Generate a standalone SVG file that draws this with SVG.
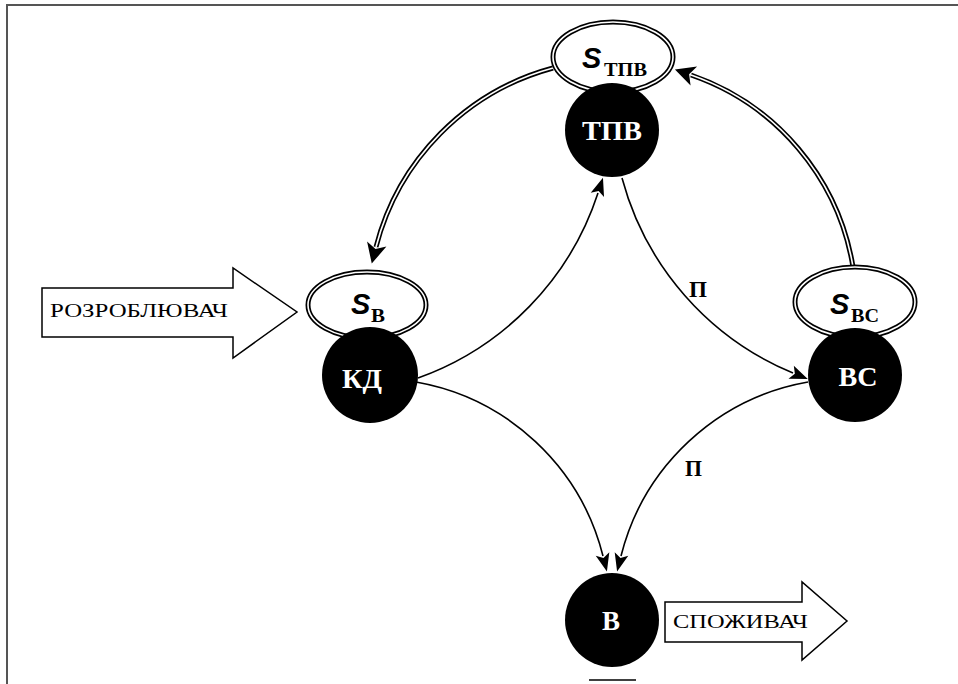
<svg xmlns="http://www.w3.org/2000/svg" width="958" height="684" viewBox="0 0 958 684">
<style>
.frame{stroke:#555;stroke-width:2;fill:none}
.ring{fill:#fff;stroke:#000;stroke-width:5}
.ringin{fill:none;stroke:#fff;stroke-width:1.6}
.dot{fill:#000}
.dl{font-family:"Liberation Serif","DejaVu Serif",serif;font-weight:bold;font-size:27px;fill:#fff;text-anchor:middle}
.s{font-family:"Liberation Sans","DejaVu Sans",sans-serif;font-weight:bold;font-style:italic;font-size:29px;fill:#000}
.sub{font-family:"Liberation Serif","DejaVu Serif",serif;font-weight:bold;font-style:normal;font-size:18px}
.c1{fill:none;stroke:#000;stroke-width:1.6}
.c2{fill:none;stroke:#000;stroke-width:5}
.c2w{fill:none;stroke:#fff;stroke-width:1.6}
.lab{font-family:"Liberation Serif","DejaVu Serif",serif;font-weight:bold;font-size:23px;fill:#000}
.blk{fill:#fff;stroke:#000;stroke-width:1.5}
.bt{font-family:"Liberation Serif","DejaVu Serif",serif;font-size:19px;fill:#000}
</style>
<defs>
<marker id="a1" markerUnits="userSpaceOnUse" markerWidth="20" markerHeight="20" refX="0" refY="0" orient="auto" overflow="visible">
<path d="M16,0 L-2,-7 L2,0 L-2,7 Z" fill="#000"/>
</marker>
<marker id="a2" markerUnits="userSpaceOnUse" markerWidth="24" markerHeight="24" refX="0" refY="0" orient="auto" overflow="visible">
<path d="M17,0 L-3,-10 L2,0 L-3,10 Z" fill="#000"/>
</marker>
</defs>
<path class="frame" d="M7,684 L7,5 L958,5"/>
<line x1="589" y1="680" x2="636" y2="680" stroke="#000" stroke-width="1.5"/>
<g id="connectors">
<path class="c2" d="M553,68 A250,250 0 0,0 376,247" marker-end="url(#a2)"/>
<path class="c2w" d="M553,68 A250,250 0 0,0 376,247"/>
<path class="c2" d="M853,267 A245,245 0 0,0 691,75" marker-end="url(#a2)"/>
<path class="c2w" d="M853,267 A245,245 0 0,0 691,75"/>
<path class="c1" d="M418,378 A293,293 0 0,0 598,193" marker-end="url(#a1)"/>
<path class="c1" d="M622,178 A293,293 0 0,0 793,373" marker-end="url(#a1)"/>
<path class="c1" d="M416,382 A235,235 0 0,1 603,556" marker-end="url(#a1)"/>
<path class="c1" d="M808,382 A235,235 0 0,0 621,556" marker-end="url(#a1)"/>
<text class="lab" x="689" y="297" textLength="18" lengthAdjust="spacingAndGlyphs">П</text>
<text class="lab" x="685" y="476" textLength="17" lengthAdjust="spacingAndGlyphs">П</text>
</g>
<g id="S_TPV">
<ellipse class="ring" cx="613" cy="57" rx="60" ry="35"/>
<ellipse class="ringin" cx="613" cy="57" rx="60" ry="35"/>
<text class="s" x="582" y="68">S</text>
<text class="sub" x="604" y="76" textLength="43" lengthAdjust="spacingAndGlyphs">ТПВ</text>
</g>
<g id="TPV">
<circle class="dot" cx="612" cy="130" r="47"/>
<text class="dl" x="612" y="140" textLength="60" lengthAdjust="spacingAndGlyphs">ТПВ</text>
</g>
<g id="S_V">
<ellipse class="ring" cx="367" cy="305" rx="59" ry="33"/>
<ellipse class="ringin" cx="367" cy="305" rx="59" ry="33"/>
<text class="s" x="351" y="314">S</text>
<text class="sub" x="371" y="322" textLength="14" lengthAdjust="spacingAndGlyphs">В</text>
</g>
<g id="KD">
<circle class="dot" cx="370" cy="375" r="48"/>
<text class="dl" x="362" y="388" textLength="40" lengthAdjust="spacingAndGlyphs">КД</text>
</g>
<g id="S_VS">
<ellipse class="ring" cx="855" cy="302" rx="60" ry="35"/>
<ellipse class="ringin" cx="855" cy="302" rx="60" ry="35"/>
<text class="s" x="830" y="314">S</text>
<text class="sub" x="851" y="322" textLength="28" lengthAdjust="spacingAndGlyphs">ВС</text>
</g>
<g id="VS">
<circle class="dot" cx="855" cy="375" r="47"/>
<text class="dl" x="858" y="386" textLength="39" lengthAdjust="spacingAndGlyphs">ВС</text>
</g>
<g id="V">
<circle class="dot" cx="612" cy="620" r="47"/>
<text class="dl" x="611" y="630" textLength="18" lengthAdjust="spacingAndGlyphs">В</text>
</g>
<g id="rozrobliuvach">
<path class="blk" d="M42,288 L233,288 L233,268 L297,312 L233,358 L233,337 L42,337 Z"/>
<text class="bt" x="50" y="317" textLength="178" lengthAdjust="spacingAndGlyphs">РОЗРОБЛЮВАЧ</text>
</g>
<g id="spozhyvach">
<path class="blk" d="M665,602 L802,602 L802,582 L847,621 L802,660 L802,642 L665,642 Z"/>
<text class="bt" x="673" y="628" textLength="135" lengthAdjust="spacingAndGlyphs">СПОЖИВАЧ</text>
</g>
</svg>
